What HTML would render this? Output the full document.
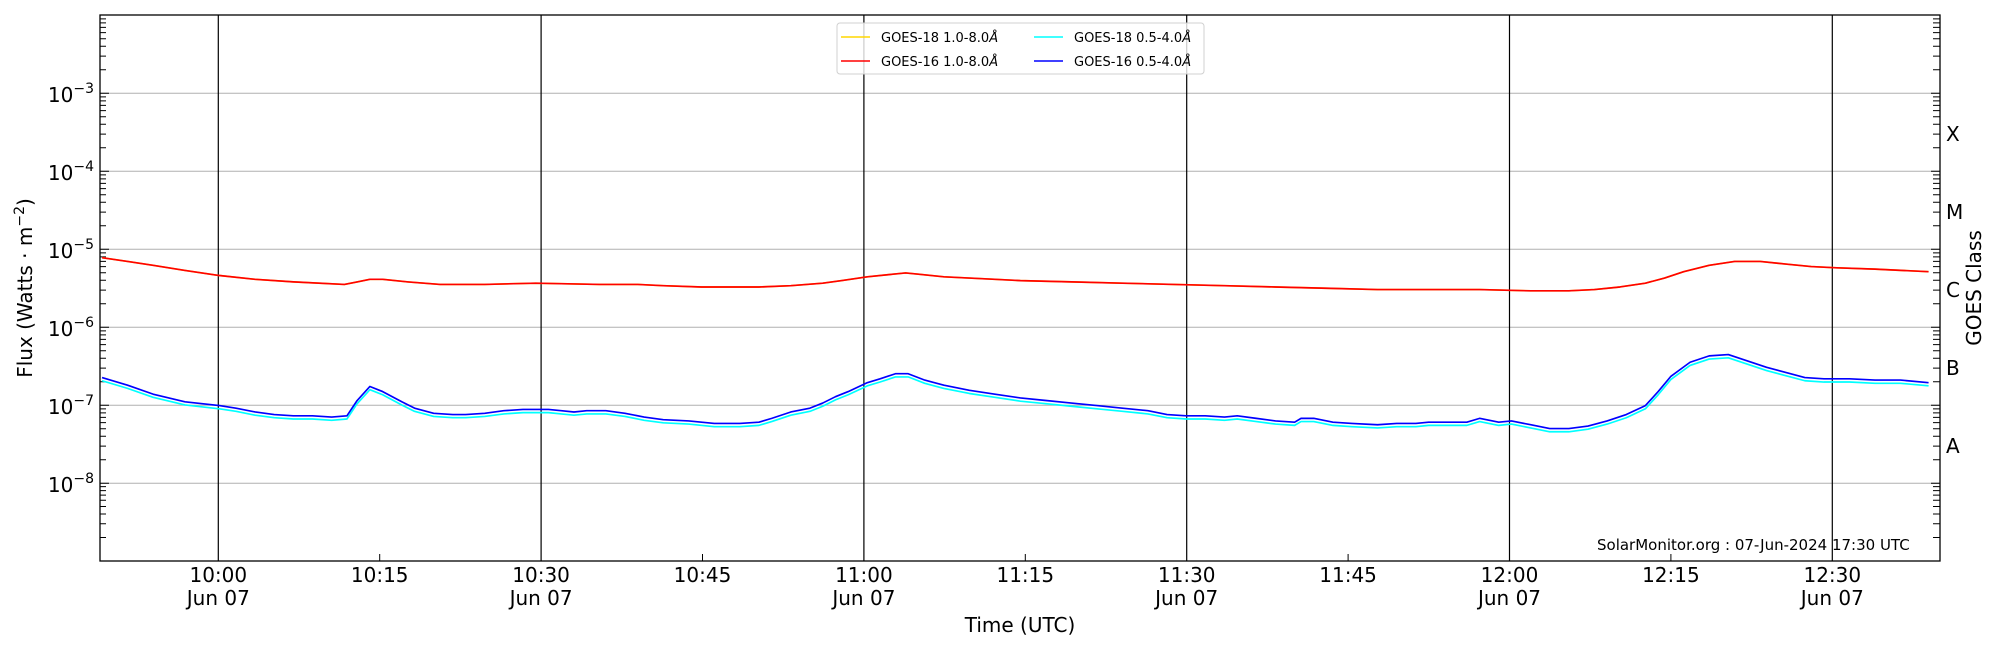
<!DOCTYPE html>
<html><head><meta charset="utf-8"><style>
html,body{margin:0;padding:0;background:#fff;}
svg{display:block;font-family:"DejaVu Sans","Liberation Sans",sans-serif;}
</style></head><body>
<svg width="2000" height="650" viewBox="0 0 2000 650" xmlns="http://www.w3.org/2000/svg">
<defs>
<g id="dl">
<path d="M100 0H109M100 -23.5H106M100 -37.2H106M100 -47H106M100 -54.5H106M100 -60.7H106M100 -65.9H106M100 -70.4H106M100 -74.4H106" stroke="#000" stroke-width="1"/>
</g>
<g id="dr">
<path d="M1940 0H1931M1940 -23.5H1933M1940 -37.2H1933M1940 -47H1933M1940 -54.5H1933M1940 -60.7H1933M1940 -65.9H1933M1940 -70.4H1933M1940 -74.4H1933" stroke="#000" stroke-width="1"/>
</g>
</defs>
<!-- grid -->
<g stroke="#b0b0b0" stroke-width="1">
<line x1="100" x2="1940" y1="93.3" y2="93.3"/>
<line x1="100" x2="1940" y1="171.3" y2="171.3"/>
<line x1="100" x2="1940" y1="249.3" y2="249.3"/>
<line x1="100" x2="1940" y1="327.3" y2="327.3"/>
<line x1="100" x2="1940" y1="405.3" y2="405.3"/>
<line x1="100" x2="1940" y1="483.3" y2="483.3"/>
</g>
<!-- major vertical lines -->
<g stroke="#000" stroke-width="1.2">
<line x1="218.3" x2="218.3" y1="15" y2="561"/>
<line x1="541.1" x2="541.1" y1="15" y2="561"/>
<line x1="863.9" x2="863.9" y1="15" y2="561"/>
<line x1="1186.7" x2="1186.7" y1="15" y2="561"/>
<line x1="1509.5" x2="1509.5" y1="15" y2="561"/>
<line x1="1832.3" x2="1832.3" y1="15" y2="561"/>
</g>
<!-- minor x ticks -->
<g stroke="#000" stroke-width="1">
<line x1="379.7" x2="379.7" y1="561" y2="554"/>
<line x1="702.5" x2="702.5" y1="561" y2="554"/>
<line x1="1025.3" x2="1025.3" y1="561" y2="554"/>
<line x1="1348.1" x2="1348.1" y1="561" y2="554"/>
<line x1="1670.9" x2="1670.9" y1="561" y2="554"/>
</g>
<!-- y ticks -->
<use href="#dl" transform="translate(0,561)"/>
<use href="#dl" transform="translate(0,483.3)"/>
<use href="#dl" transform="translate(0,405.3)"/>
<use href="#dl" transform="translate(0,327.3)"/>
<use href="#dl" transform="translate(0,249.3)"/>
<use href="#dl" transform="translate(0,171.3)"/>
<use href="#dl" transform="translate(0,93.3)"/>
<use href="#dr" transform="translate(0,561)"/>
<use href="#dr" transform="translate(0,483.3)"/>
<use href="#dr" transform="translate(0,405.3)"/>
<use href="#dr" transform="translate(0,327.3)"/>
<use href="#dr" transform="translate(0,249.3)"/>
<use href="#dr" transform="translate(0,171.3)"/>
<use href="#dr" transform="translate(0,93.3)"/>
<!-- curves in shown coordinates -->
<g transform="scale(1.27551)" fill="none" stroke-linejoin="round">
<polyline transform="translate(0,2.5)" stroke="#00ffff" stroke-width="1.3" points="80,296 100,302 120,309 145,315 172,318 185,320 200,323 215,325 230,326 245,326 260,327 272,326 280,314 290,303 300,307 315,315 325,320 340,324 355,325 365,325 380,324 395,322 410,321 430,321 440,322 450,323 460,322 475,322 490,324 505,327 520,329 540,330 560,332 580,332 595,331 605,328 620,323 635,320 645,316 655,311 665,307 680,300 690,297 702,293 712,293 725,298 740,302 760,306 780,309 800,312 820,314 840,316 860,318 880,320 900,322 915,325 930,326 945,326 960,327 970,326 985,328 1000,330 1015,331 1020,328 1030,328 1045,331 1060,332 1080,333 1095,332 1110,332 1120,331 1140,331 1150,331 1160,328 1175,331 1185,330 1200,333 1215,336 1230,336 1245,334 1260,330 1275,325 1290,318 1300,307 1310,295 1325,284 1340,279 1355,278 1370,283 1385,288 1400,292 1415,296 1430,297 1450,297 1470,298 1490,298 1512,300"/>
<polyline stroke="#0000ff" stroke-width="1.3" points="80,296 100,302 120,309 145,315 172,318 185,320 200,323 215,325 230,326 245,326 260,327 272,326 280,314 290,303 300,307 315,315 325,320 340,324 355,325 365,325 380,324 395,322 410,321 430,321 440,322 450,323 460,322 475,322 490,324 505,327 520,329 540,330 560,332 580,332 595,331 605,328 620,323 635,320 645,316 655,311 665,307 680,300 690,297 702,293 712,293 725,298 740,302 760,306 780,309 800,312 820,314 840,316 860,318 880,320 900,322 915,325 930,326 945,326 960,327 970,326 985,328 1000,330 1015,331 1020,328 1030,328 1045,331 1060,332 1080,333 1095,332 1110,332 1120,331 1140,331 1150,331 1160,328 1175,331 1185,330 1200,333 1215,336 1230,336 1245,334 1260,330 1275,325 1290,318 1300,307 1310,295 1325,284 1340,279 1355,278 1370,283 1385,288 1400,292 1415,296 1430,297 1450,297 1470,298 1490,298 1512,300"/>
<polyline stroke="#ffd700" stroke-width="1.3" points="80,202 100,205 120,208 145,212 172,216 200,219 230,221 270,223 280,221 290,219 300,219 320,221 345,223 380,223 420,222 470,223 500,223 520,224 550,225 595,225 620,224 645,222 660,220 680,217 700,215 710,214 720,215 740,217 780,219 800,220 840,221 880,222 920,223 960,224 1000,225 1040,226 1080,227 1120,227 1160,227 1200,228 1230,228 1250,227 1270,225 1290,222 1305,218 1320,213 1340,208 1360,205 1380,205 1400,207 1420,209 1440,210 1470,211 1512,213"/>
<polyline stroke="#ff0000" stroke-width="1.3" points="80,202 100,205 120,208 145,212 172,216 200,219 230,221 270,223 280,221 290,219 300,219 320,221 345,223 380,223 420,222 470,223 500,223 520,224 550,225 595,225 620,224 645,222 660,220 680,217 700,215 710,214 720,215 740,217 780,219 800,220 840,221 880,222 920,223 960,224 1000,225 1040,226 1080,227 1120,227 1160,227 1200,228 1230,228 1250,227 1270,225 1290,222 1305,218 1320,213 1340,208 1360,205 1380,205 1400,207 1420,209 1440,210 1470,211 1512,213"/>
</g>
<!-- axes frame -->
<rect x="100" y="15" width="1840" height="546" fill="none" stroke="#000" stroke-width="1.3"/>
<!-- y labels -->
<g font-size="20" text-anchor="end" fill="#000">
<text x="94" y="102">10<tspan font-size="14" dy="-9">−3</tspan></text>
<text x="94" y="180">10<tspan font-size="14" dy="-9">−4</tspan></text>
<text x="94" y="258">10<tspan font-size="14" dy="-9">−5</tspan></text>
<text x="94" y="336">10<tspan font-size="14" dy="-9">−6</tspan></text>
<text x="94" y="414">10<tspan font-size="14" dy="-9">−7</tspan></text>
<text x="94" y="492">10<tspan font-size="14" dy="-9">−8</tspan></text>
</g>
<text transform="translate(32,288) rotate(-90)" font-size="20" text-anchor="middle">Flux (Watts · m<tspan font-size="14" dy="-8">−2</tspan><tspan dy="8">)</tspan></text>
<!-- class labels -->
<g font-size="20" fill="#000">
<text x="1946" y="141">X</text>
<text x="1946" y="219">M</text>
<text x="1946" y="297">C</text>
<text x="1946" y="375">B</text>
<text x="1946" y="453">A</text>
</g>
<text transform="translate(1981,288) rotate(-90)" font-size="20" text-anchor="middle">GOES Class</text>
<!-- x labels -->
<g font-size="20" text-anchor="middle" fill="#000">
<text x="218.3" y="582">10:00</text><text x="218.3" y="605">Jun 07</text>
<text x="379.7" y="582">10:15</text>
<text x="541.1" y="582">10:30</text><text x="541.1" y="605">Jun 07</text>
<text x="702.5" y="582">10:45</text>
<text x="863.9" y="582">11:00</text><text x="863.9" y="605">Jun 07</text>
<text x="1025.3" y="582">11:15</text>
<text x="1186.7" y="582">11:30</text><text x="1186.7" y="605">Jun 07</text>
<text x="1348.1" y="582">11:45</text>
<text x="1509.5" y="582">12:00</text><text x="1509.5" y="605">Jun 07</text>
<text x="1670.9" y="582">12:15</text>
<text x="1832.3" y="582">12:30</text><text x="1832.3" y="605">Jun 07</text>
<text x="1020" y="632">Time (UTC)</text>
</g>
<text x="1597" y="550" font-size="15">SolarMonitor.org : 07-Jun-2024 17:30 UTC</text>
<!-- legend -->
<rect x="837" y="23" width="367" height="51" rx="3" fill="#fff" fill-opacity="0.8" stroke="#d0d0d0"/>
<g stroke-width="1.5">
<line x1="841" x2="870" y1="37" y2="37" stroke="#ffd700"/>
<line x1="841" x2="870" y1="61" y2="61" stroke="#ff0000"/>
<line x1="1034" x2="1063" y1="37" y2="37" stroke="#00ffff"/>
<line x1="1034" x2="1063" y1="61" y2="61" stroke="#0000ff"/>
</g>
<g font-size="13" fill="#000">
<text x="881" y="42">GOES-18 1.0-8.0<tspan font-style="italic">Å</tspan></text>
<text x="881" y="66">GOES-16 1.0-8.0<tspan font-style="italic">Å</tspan></text>
<text x="1074" y="42">GOES-18 0.5-4.0<tspan font-style="italic">Å</tspan></text>
<text x="1074" y="66">GOES-16 0.5-4.0<tspan font-style="italic">Å</tspan></text>
</g>
</svg>
</body></html>
